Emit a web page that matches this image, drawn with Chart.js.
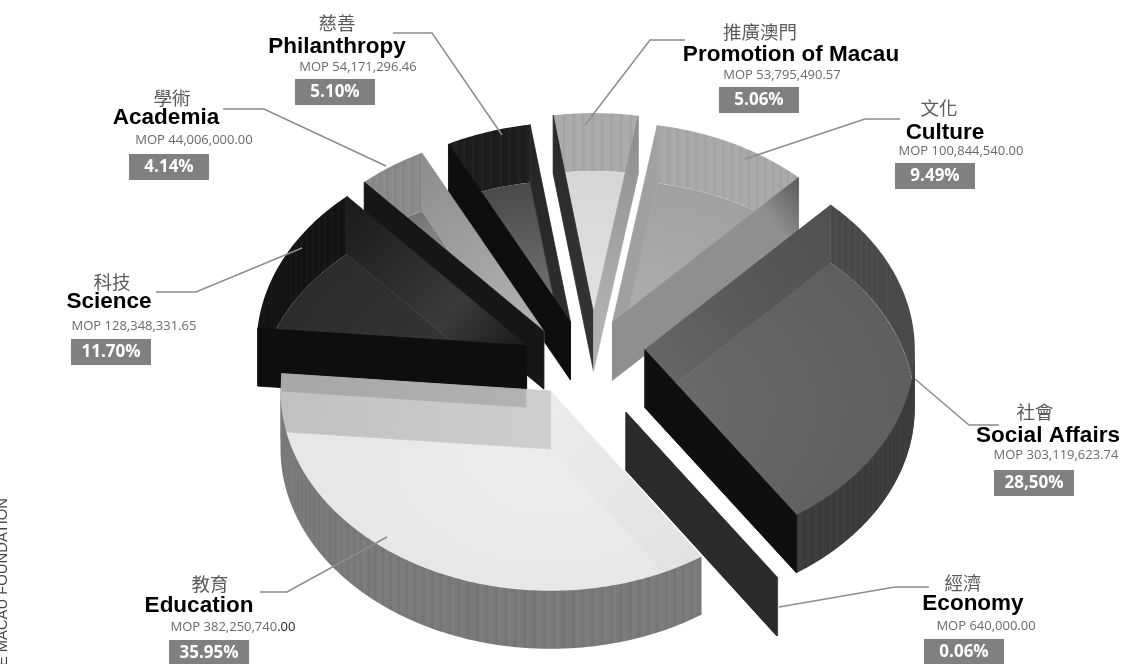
<!DOCTYPE html>
<html lang="en">
<head>
    <meta charset="UTF-8">
    <title>Macau Foundation funding by sector</title>
    <script src="https://cdn.jsdelivr.net/npm/chart.js"></script>
    <style>
        html, body { margin: 0; padding: 0; background: #fff; overflow: hidden; }
        canvas { display: block; filter: blur(0.5px); }
    </style>
</head>
<body>
    <canvas id="pie" width="1122" height="664"></canvas>

    <script>
        // Data, clockwise from the top of the pie
        const categoriesEn = ['Promotion of Macau', 'Culture', 'Social Affairs', 'Economy', 'Education', 'Science', 'Academia', 'Philanthropy'];
        const categoriesZh = ['推廣澳門', '文化', '社會', '經濟', '教育', '科技', '學術', '慈善'];
        const amounts = [53795490.57, 100844540.00, 303119623.74, 640000.00, 382250740.00, 128348331.65, 44006000.00, 54171296.46];
        const percentLabels = ['5.06%', '9.49%', '28,50%', '0.06%', '35.95%', '11.70%', '4.14%', '5.10%'];

        // Pie projection
        const tilt = 0.74;
        const wallHeight = 58;
        const pieCentre = [585, 358];
        const explode = [61, 57, 60, 82, 58, 62, 57, 41];
        const nudge = [[8, 0], [2, 2], [0, -12], [-5, 4], [-5, -4], [-3, 8], [-9, 8], [-2, -7]];
        const paintOrder = [0, 1, 7, 6, 5, 2, 4, 3];

        // Greys per slice
        const floorColors = [['#e6e6e6', '#d6d6d6'], ['#b4b4b4', '#a0a0a0'], ['#6c6c6c', '#5e5e5e'], ['#333333', '#333333'],
            ['#ececec', '#e6e6e6'], ['#3a3a3a', '#2c2c2c'], ['#d6d6d6', '#747474'], ['#8c8c8c', '#4a4a4a']];
        const rimBackColors = ['#ababab', '#a9a9a9', '#4a4a4a', '#555555', '#777777', '#141414', '#8a8a8a', '#1d1d1d'];
        const rimFrontColors = ['#8a8a8a', '#8a8a8a', '#3c3c3c', '#5a5a5a', '#7a7a7a', '#111111', '#555555', '#222222'];
        const startWallColors = [['#333333', '#2a2a2a'], ['#a0a0a0', '#a0a0a0'], ['#666666', '#585858', '#505050'], ['#2b2b2b', '#2b2b2b'],
            ['#ebebeb', '#e2e2e2'], ['#0e0e0e', '#0e0e0e'], ['#161616', '#161616'], ['#0e0e0e', '#0e0e0e']];
        const endWallColors = [['#b0b0b0', '#8c8c8c'], ['#8f8f8f', '#8f8f8f', '#8f8f8f', '#8f8f8f', '#8f8f8f', '#5a5a5a'], ['#0f0f0f', '#0f0f0f'], ['#2b2b2b', '#2b2b2b'],
            ['#cecece', '#c0c0c0'], ['#1a1a1a', '#3a3a3a', '#2a2a2a', '#1a1a1a'], ['#b4b4b4', '#8c8c8c'], ['#2e2e2e', '#242424']];
        // darker strip along the top of a back wall: [height, share of the wall from the rim]
        const wallBands = [null, null, null, null, [18, 0.91], null, null, null];

        // Label placement: centres of each text line and of the percent box
        const labelZh = [[760, 32], [939, 108], [1035, 412], [963, 583], [210, 584], [112, 282], [172, 98], [337, 23]];
        const labelEn = [[791, 55], [945, 133], [1048, 436], [973, 604], [199, 606], [109, 302], [166, 118], [337, 47]];
        const labelAmount = [[782, 75], [961, 151], [1056, 455], [986, 626], [233, 627], [134, 326], [194, 140], [358, 67]];
        const labelBox = [[759, 100], [935, 176], [1034, 483], [964, 652], [209, 653], [111, 352], [169, 167], [335, 92]];
        // the source prints these trailing digits darker
        const amountDarkTail = ['', '', '', '', '.00', '', '', ''];
        const leaderLines = [
            [[685, 40], [650, 40], [585, 125]],
            [[900, 119], [865, 119], [745, 159]],
            [[999, 425], [969, 425], [915, 379]],
            [[929, 587], [895, 587], [779, 607]],
            [[260, 592], [287, 592], [387, 537]],
            [[156, 292], [196, 292], [302, 248]],
            [[223, 109], [264, 109], [386, 166]],
            [[393, 33], [432, 33], [502, 135]]
        ];

        const canvas = document.getElementById('pie');
        const mainCtx = canvas.getContext('2d');

        // Floors shade outwards from the slice tip, in the chart's own coordinates
        const floorFills = floorColors.map(([inner, outer]) => {
            const g = mainCtx.createRadialGradient(561, 332, 0, 561, 332, 270);
            g.addColorStop(0, inner);
            g.addColorStop(1, outer);
            return g;
        });

        function sliceTip(arc, i) {
            const mid = (arc.startAngle + arc.endAngle) / 2;
            return [
                pieCentre[0] + Math.cos(mid) * explode[i] + nudge[i][0],
                pieCentre[1] + Math.sin(mid) * explode[i] * tilt + nudge[i][1]
            ];
        }

        function rimPoint(arc, tip, angle) {
            return [tip[0] + Math.cos(angle) * arc.outerRadius, tip[1] + Math.sin(angle) * arc.outerRadius * tilt];
        }

        function drawRim(ctx, arc, tip, from, to, color) {
            if (to <= from) return;
            const steps = Math.max(1, Math.ceil((to - from) / 0.012));
            const points = [];
            for (let s = 0; s <= steps; s++) points.push(rimPoint(arc, tip, from + (to - from) * s / steps));

            ctx.fillStyle = color;
            ctx.beginPath();
            points.forEach((p, s) => s ? ctx.lineTo(p[0], p[1]) : ctx.moveTo(p[0], p[1]));
            points.slice().reverse().forEach(p => ctx.lineTo(p[0], p[1] + wallHeight));
            ctx.closePath();
            ctx.fill();

            // vertical ribbing on the outer wall
            for (let s = 0; s < steps; s++) {
                if (s % 3 === 1) continue;
                ctx.fillStyle = s % 3 ? 'rgba(255,255,255,0.025)' : 'rgba(0,0,0,0.035)';
                const a = points[s], b = points[s + 1];
                ctx.beginPath();
                ctx.moveTo(a[0], a[1]);
                ctx.lineTo(b[0], b[1]);
                ctx.lineTo(b[0], b[1] + wallHeight);
                ctx.lineTo(a[0], a[1] + wallHeight);
                ctx.closePath();
                ctx.fill();
            }
        }

        function drawWall(ctx, arc, tip, angle, colors, band) {
            const rim = rimPoint(arc, tip, angle);
            const g = ctx.createLinearGradient(tip[0], tip[1], rim[0], rim[1]);
            colors.forEach((c, n) => g.addColorStop(n / (colors.length - 1), c));
            ctx.fillStyle = g;
            ctx.strokeStyle = g;
            ctx.lineWidth = 0.8;
            ctx.beginPath();
            ctx.moveTo(tip[0], tip[1]);
            ctx.lineTo(rim[0], rim[1]);
            ctx.lineTo(rim[0], rim[1] + wallHeight);
            ctx.lineTo(tip[0], tip[1] + wallHeight);
            ctx.closePath();
            ctx.fill();
            ctx.stroke();

            if (band) {
                const endX = rim[0] + (tip[0] - rim[0]) * band[1];
                const endY = rim[1] + (tip[1] - rim[1]) * band[1];
                ctx.fillStyle = 'rgba(0,0,0,0.13)';
                ctx.beginPath();
                ctx.moveTo(rim[0], rim[1]);
                ctx.lineTo(endX, endY);
                ctx.lineTo(endX, endY + band[0]);
                ctx.lineTo(rim[0], rim[1] + band[0]);
                ctx.closePath();
                ctx.fill();
            }
        }

        // Split a slice's angle span into the rim facing away (sin < 0) and towards us
        function rimSpans(arc) {
            const back = [], front = [];
            let a = arc.startAngle;
            while (a < arc.endAngle) {
                const half = Math.floor(a / Math.PI + 1e-9);
                const stop = Math.min(arc.endAngle, (half + 1) * Math.PI);
                (((half % 2) + 2) % 2 === 0 ? front : back).push([a, stop]);
                a = stop;
            }
            return { back, front };
        }

        const prism3d = {
            id: 'prism3d',
            beforeDatasetsDraw(chart) {
                const ctx = chart.ctx;
                const arcs = chart.getDatasetMeta(0).data;
                paintOrder.forEach(i => {
                    const arc = arcs[i];
                    const tip = sliceTip(arc, i);
                    const spans = rimSpans(arc);
                    const startFront = Math.cos(arc.startAngle) < 0;
                    const endFront = Math.cos(arc.endAngle) > 0;

                    spans.back.forEach(([a, b]) => drawRim(ctx, arc, tip, a, b, rimBackColors[i]));

                    ctx.save();
                    ctx.translate(tip[0], tip[1] + wallHeight);
                    ctx.scale(1, tilt);
                    ctx.translate(-arc.x, -arc.y);
                    arc.draw(ctx);
                    ctx.restore();

                    if (!startFront) drawWall(ctx, arc, tip, arc.startAngle, startWallColors[i]);
                    if (!endFront) drawWall(ctx, arc, tip, arc.endAngle, endWallColors[i], wallBands[i]);
                    spans.front.forEach(([a, b]) => drawRim(ctx, arc, tip, a, b, rimFrontColors[i]));
                    if (startFront) drawWall(ctx, arc, tip, arc.startAngle, startWallColors[i]);
                    if (endFront) drawWall(ctx, arc, tip, arc.endAngle, endWallColors[i]);
                });
                return false;
            }
        };

        const sliceLabels = {
            id: 'sliceLabels',
            afterDraw(chart) {
                const ctx = chart.ctx;
                ctx.save();
                ctx.textAlign = 'center';
                ctx.textBaseline = 'middle';

                ctx.strokeStyle = '#8c8c8c';
                ctx.lineWidth = 1.5;
                leaderLines.forEach(line => {
                    ctx.beginPath();
                    line.forEach((p, n) => n ? ctx.lineTo(p[0], p[1]) : ctx.moveTo(p[0], p[1]));
                    ctx.stroke();
                });

                categoriesEn.forEach((name, i) => {
                    ctx.fillStyle = '#5a5a5a';
                    ctx.font = '18.5px "Noto Sans CJK TC"';
                    ctx.fillText(categoriesZh[i], labelZh[i][0], labelZh[i][1]);

                    ctx.fillStyle = '#000';
                    ctx.font = 'bold 22.5px "Liberation Sans"';
                    ctx.fillText(name, labelEn[i][0], labelEn[i][1]);

                    const money = amounts[i].toLocaleString('en-US', { minimumFractionDigits: 2, maximumFractionDigits: 2 });
                    const tail = amountDarkTail[i];
                    const head = 'MOP ' + money.slice(0, money.length - tail.length);
                    ctx.font = '13px "Open Sans"';
                    const headWidth = ctx.measureText(head).width;
                    const tailWidth = ctx.measureText(tail).width;
                    const left = labelAmount[i][0] - (headWidth + tailWidth) / 2;
                    ctx.textAlign = 'left';
                    ctx.fillStyle = '#6a6a6a';
                    ctx.fillText(head, left, labelAmount[i][1]);
                    ctx.fillStyle = '#222';
                    ctx.fillText(tail, left + headWidth, labelAmount[i][1]);
                    ctx.textAlign = 'center';

                    ctx.fillStyle = '#808080';
                    ctx.fillRect(labelBox[i][0] - 40, labelBox[i][1] - 13, 80, 26);
                    ctx.fillStyle = '#fff';
                    ctx.font = 'bold 17px "Open Sans"';
                    ctx.fillText(percentLabels[i], labelBox[i][0], labelBox[i][1]);
                });

                // credit running up the left edge
                ctx.translate(7, 498);
                ctx.rotate(-Math.PI / 2);
                ctx.textAlign = 'right';
                ctx.textBaseline = 'alphabetic';
                ctx.fillStyle = '#444';
                ctx.font = '14.8px "Liberation Sans"';
                ctx.fillText('SOURCE MACAU FOUNDATION', 0, 0);
                ctx.restore();
            }
        };

        new Chart(canvas, {
            type: 'pie',
            data: {
                labels: categoriesEn,
                datasets: [{
                    data: amounts,
                    backgroundColor: floorFills,
                    borderWidth: 0
                }]
            },
            options: {
                responsive: false,
                animation: false,
                rotation: -8.6,
                layout: { padding: { top: 62, bottom: 62 } },
                plugins: { legend: { display: false }, tooltip: { enabled: false } },
                events: []
            },
            plugins: [prism3d, sliceLabels]
        });
    </script>
</body>
</html>
